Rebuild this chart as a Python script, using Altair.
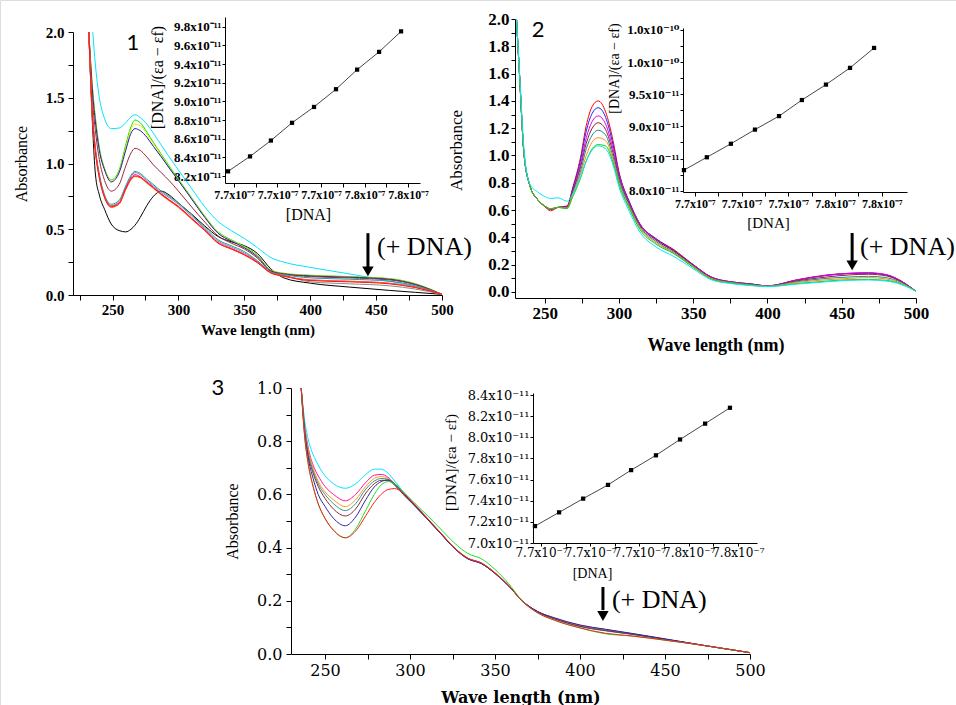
import altair as alt
import pandas as pd

SERIF = "Liberation Serif"
SERIF_FB = "Liberation Serif, DejaVu Serif"
SERIF3 = "DejaVu Serif"
SANS = "Lato"

# ---------------- Panel 1 : spectra ----------------
P1_WL = [232, 235, 237, 240, 244, 249, 255, 260, 264, 267, 271, 276, 281, 287, 293, 300,
         310, 320, 330, 340, 350, 360, 370, 380, 400, 430, 460, 480, 500]
P1_NAMES = ["black", "cyan", "green", "yellow", "blue", "maroon", "teal", "gray", "magenta", "orange", "red"]
P1_COLORS = ["#000000", "#00E5FF", "#00E000", "#E8E800", "#1A1AB0", "#99283A", "#1E9A9A",
             "#8A8A8A", "#FF00CC", "#FF9900", "#FF1010"]
P1_BLACK = [2.0, 1.25, 0.92, 0.76, 0.65, 0.54, 0.49, 0.48, 0.50, 0.53, 0.59, 0.68, 0.75, 0.79, 0.76, 0.70,
            0.615, 0.525, 0.445, 0.405, 0.375, 0.315, 0.20, 0.13, 0.09, 0.06, 0.035, 0.02, 0.005]
P1_CYAN = [None, 2.0, 1.75, 1.50, 1.34, 1.265, 1.27, 1.31, 1.355, 1.37, 1.35, 1.30, 1.23, 1.14, 1.05, 0.95,
           0.81, 0.67, 0.56, 0.49, 0.43, 0.36, 0.285, 0.25, 0.21, 0.16, 0.105, 0.065, 0.005]
P1_GREEN = [2.0, 1.55, 1.35, 1.12, 0.96, 0.875, 0.95, 1.14, 1.28, 1.33, 1.31, 1.24, 1.16, 1.07, 0.98, 0.88,
            0.74, 0.60, 0.48, 0.42, 0.37, 0.30, 0.19, 0.165, 0.15, 0.14, 0.125, 0.085, 0.005]
P1_YELLOW = [2.0, 1.54, 1.34, 1.11, 0.955, 0.87, 0.94, 1.12, 1.26, 1.30, 1.29, 1.225, 1.15, 1.06, 0.97, 0.875,
             0.735, 0.595, 0.475, 0.415, 0.365, 0.295, 0.19, 0.163, 0.148, 0.138, 0.123, 0.083, 0.005]
P1_BLUE = [2.0, 1.52, 1.32, 1.10, 0.95, 0.86, 0.93, 1.10, 1.23, 1.265, 1.25, 1.20, 1.13, 1.05, 0.965, 0.87,
           0.73, 0.59, 0.47, 0.41, 0.36, 0.29, 0.185, 0.16, 0.145, 0.135, 0.12, 0.08, 0.005]
P1_MAROON = [2.0, 1.45, 1.25, 1.03, 0.87, 0.79, 0.84, 0.98, 1.08, 1.115, 1.10, 1.05, 0.99, 0.93, 0.87, 0.79,
             0.67, 0.555, 0.45, 0.395, 0.35, 0.28, 0.18, 0.16, 0.14, 0.13, 0.115, 0.078, 0.005]
P1_TEAL = [2.0, 1.35, 1.12, 0.92, 0.76, 0.69, 0.72, 0.83, 0.91, 0.94, 0.925, 0.88, 0.84, 0.79, 0.75, 0.70,
           0.61, 0.515, 0.42, 0.375, 0.33, 0.26, 0.175, 0.155, 0.13, 0.12, 0.105, 0.07, 0.005]
P1_GRAY = [2.0, 1.34, 1.11, 0.91, 0.755, 0.68, 0.71, 0.82, 0.90, 0.93, 0.915, 0.87, 0.83, 0.78, 0.74, 0.69,
           0.60, 0.505, 0.41, 0.365, 0.32, 0.255, 0.17, 0.15, 0.10, 0.085, 0.07, 0.045, 0.005]
P1_MAGENTA = [2.0, 1.33, 1.10, 0.90, 0.745, 0.675, 0.70, 0.81, 0.89, 0.915, 0.90, 0.86, 0.82, 0.77, 0.725, 0.675,
              0.585, 0.495, 0.40, 0.355, 0.31, 0.25, 0.17, 0.145, 0.115, 0.105, 0.09, 0.06, 0.005]
P1_ORANGE = [2.0, 1.32, 1.09, 0.89, 0.74, 0.665, 0.69, 0.80, 0.875, 0.90, 0.89, 0.85, 0.81, 0.76, 0.715, 0.665,
             0.575, 0.49, 0.395, 0.35, 0.305, 0.245, 0.168, 0.143, 0.113, 0.103, 0.088, 0.058, 0.005]
P1_RED = [2.0, 1.32, 1.09, 0.89, 0.74, 0.67, 0.695, 0.805, 0.88, 0.905, 0.895, 0.855, 0.815, 0.765, 0.72, 0.67,
          0.58, 0.49, 0.395, 0.35, 0.305, 0.245, 0.168, 0.143, 0.11, 0.10, 0.085, 0.056, 0.005]
P1_SERIES = [P1_BLACK, P1_CYAN, P1_GREEN, P1_YELLOW, P1_BLUE, P1_MAROON, P1_TEAL, P1_GRAY,
             P1_MAGENTA, P1_ORANGE, P1_RED]

# ---------------- Panel 2 : spectra ----------------
P2_WL = [231, 233, 236, 240, 245, 250, 254, 259, 265, 269, 274, 278, 282, 286, 291, 296, 300, 307, 314, 325,
         337, 350, 362, 375, 388, 400, 420, 440, 455, 468, 480, 490, 500]
P2_NAMES = ["red", "blue", "magenta", "wine", "teal", "orange", "green", "cyan"]
P2_COLORS = ["#FF0000", "#2020FF", "#E000E0", "#8B2040", "#208C8C", "#FF8C1A", "#10D010", "#00E8FF"]
P2_RED = [2.0, 1.60, 1.02, 0.78, 0.68, 0.625, 0.595, 0.62, 0.63, 0.77, 0.98, 1.22, 1.36, 1.40, 1.32, 1.11,
          0.88, 0.66, 0.50, 0.39, 0.31, 0.20, 0.11, 0.075, 0.06, 0.045, 0.09, 0.125, 0.137, 0.14, 0.125, 0.08, 0.005]
P2_BLUE = [2.0, 1.60, 1.02, 0.78, 0.68, 0.63, 0.605, 0.62, 0.625, 0.76, 0.96, 1.18, 1.31, 1.35, 1.28, 1.08,
           0.87, 0.66, 0.50, 0.39, 0.305, 0.20, 0.11, 0.075, 0.06, 0.045, 0.088, 0.122, 0.135, 0.138, 0.125, 0.08, 0.005]
P2_MAGENTA = [2.0, 1.60, 1.02, 0.78, 0.68, 0.63, 0.605, 0.62, 0.62, 0.75, 0.93, 1.13, 1.25, 1.29, 1.23, 1.05,
              0.86, 0.65, 0.50, 0.385, 0.30, 0.20, 0.11, 0.075, 0.06, 0.045, 0.088, 0.122, 0.137, 0.14, 0.128, 0.08, 0.005]
P2_WINE = [2.0, 1.60, 1.02, 0.78, 0.68, 0.63, 0.608, 0.62, 0.62, 0.74, 0.91, 1.09, 1.20, 1.24, 1.19, 1.02,
           0.84, 0.64, 0.49, 0.38, 0.30, 0.195, 0.105, 0.072, 0.058, 0.044, 0.082, 0.11, 0.125, 0.13, 0.118, 0.075, 0.005]
P2_TEAL = [2.0, 1.60, 1.02, 0.78, 0.68, 0.63, 0.608, 0.62, 0.615, 0.73, 0.88, 1.05, 1.15, 1.185, 1.15, 0.99,
           0.82, 0.63, 0.48, 0.37, 0.29, 0.19, 0.10, 0.07, 0.055, 0.043, 0.076, 0.10, 0.11, 0.115, 0.105, 0.07, 0.005]
P2_ORANGE = [2.0, 1.60, 1.02, 0.78, 0.68, 0.63, 0.61, 0.62, 0.615, 0.72, 0.86, 1.00, 1.10, 1.13, 1.11, 0.97,
             0.80, 0.62, 0.47, 0.36, 0.285, 0.185, 0.10, 0.068, 0.052, 0.042, 0.07, 0.09, 0.10, 0.105, 0.095, 0.065, 0.005]
P2_GREEN = [2.0, 1.60, 1.02, 0.78, 0.68, 0.63, 0.61, 0.62, 0.61, 0.70, 0.83, 0.96, 1.05, 1.08, 1.07, 0.95,
            0.79, 0.61, 0.46, 0.35, 0.28, 0.18, 0.095, 0.065, 0.05, 0.04, 0.062, 0.08, 0.09, 0.092, 0.085, 0.06, 0.005]
P2_CYAN = [2.0, 1.62, 1.06, 0.79, 0.735, 0.70, 0.685, 0.69, 0.665, 0.72, 0.84, 0.96, 1.04, 1.07, 1.05, 0.93,
           0.77, 0.59, 0.44, 0.33, 0.26, 0.17, 0.09, 0.062, 0.048, 0.04, 0.058, 0.075, 0.085, 0.088, 0.08, 0.055, 0.005]
P2_SERIES = [P2_RED, P2_BLUE, P2_MAGENTA, P2_WINE, P2_TEAL, P2_ORANGE, P2_GREEN, P2_CYAN]

# ---------------- Panel 3 : spectra ----------------
P3_WL = [236, 238, 240, 243, 246, 250, 255, 262, 268, 274, 279, 283, 287, 291, 296, 302, 310, 318, 326, 334,
         342, 350, 358, 366, 375, 385, 400, 415, 430, 450, 475, 500]
P3_NAMES = ["cyan", "magenta", "orange", "teal", "maroon", "navy", "green", "red"]
P3_COLORS = ["#00E5FF", "#FF1493", "#FF9A1A", "#2A9A8A", "#8B2A3A", "#2A2AA0", "#20E020", "#FF2020"]
P3_CYAN = [1.00, 0.88, 0.81, 0.75, 0.71, 0.67, 0.64, 0.623, 0.64, 0.675, 0.695, 0.695, 0.68, 0.65, 0.61, 0.565,
           0.51, 0.455, 0.40, 0.36, 0.342, 0.305, 0.258, 0.20, 0.16, 0.133, 0.103, 0.087, 0.074, 0.055, 0.03, 0.005]
P3_MAGENTA = [1.00, 0.86, 0.78, 0.71, 0.67, 0.63, 0.60, 0.576, 0.60, 0.645, 0.672, 0.675, 0.665, 0.64, 0.605, 0.565,
              0.51, 0.455, 0.40, 0.36, 0.342, 0.305, 0.258, 0.20, 0.16, 0.135, 0.108, 0.092, 0.077, 0.056, 0.03, 0.005]
P3_ORANGE = [1.00, 0.85, 0.77, 0.70, 0.65, 0.61, 0.58, 0.554, 0.58, 0.63, 0.66, 0.667, 0.66, 0.64, 0.605, 0.565,
             0.51, 0.455, 0.40, 0.36, 0.342, 0.305, 0.258, 0.20, 0.16, 0.134, 0.106, 0.09, 0.076, 0.055, 0.03, 0.005]
P3_TEAL = [1.00, 0.85, 0.76, 0.69, 0.64, 0.60, 0.565, 0.539, 0.565, 0.62, 0.65, 0.66, 0.657, 0.635, 0.60, 0.562,
           0.508, 0.453, 0.398, 0.358, 0.34, 0.303, 0.256, 0.20, 0.158, 0.132, 0.104, 0.088, 0.075, 0.055, 0.03, 0.005]
P3_MAROON = [1.00, 0.84, 0.75, 0.68, 0.63, 0.585, 0.545, 0.519, 0.545, 0.605, 0.64, 0.653, 0.653, 0.635, 0.60, 0.562,
             0.508, 0.453, 0.398, 0.358, 0.34, 0.303, 0.256, 0.20, 0.158, 0.132, 0.104, 0.088, 0.075, 0.055, 0.03, 0.005]
P3_NAVY = [1.00, 0.83, 0.74, 0.66, 0.60, 0.555, 0.51, 0.482, 0.515, 0.58, 0.628, 0.648, 0.654, 0.64, 0.605, 0.564,
           0.509, 0.454, 0.398, 0.358, 0.34, 0.303, 0.256, 0.20, 0.16, 0.136, 0.109, 0.093, 0.078, 0.057, 0.03, 0.005]
P3_GREEN = [1.00, 0.82, 0.72, 0.63, 0.565, 0.51, 0.465, 0.437, 0.47, 0.54, 0.60, 0.635, 0.648, 0.64, 0.61, 0.572,
            0.522, 0.47, 0.418, 0.378, 0.358, 0.318, 0.265, 0.20, 0.155, 0.127, 0.098, 0.076, 0.068, 0.052, 0.03, 0.005]
P3_RED = [1.00, 0.82, 0.72, 0.63, 0.565, 0.51, 0.465, 0.437, 0.462, 0.52, 0.57, 0.60, 0.618, 0.622, 0.605, 0.568,
          0.512, 0.456, 0.40, 0.36, 0.342, 0.305, 0.258, 0.198, 0.155, 0.127, 0.098, 0.078, 0.068, 0.052, 0.03, 0.005]
P3_SERIES = [P3_CYAN, P3_MAGENTA, P3_ORANGE, P3_TEAL, P3_MAROON, P3_NAVY, P3_GREEN, P3_RED]

# ---------------- Insets : [DNA] vs [DNA]/(ea-ef) ----------------
I1_DNA = [7.6973, 7.7074, 7.7170, 7.7267, 7.7368, 7.7469, 7.7566, 7.7667, 7.7768]   # x 1e-7
I1_RATIO = [8.25, 8.41, 8.58, 8.77, 8.94, 9.13, 9.34, 9.53, 9.75]                   # x 1e-11
I2_DNA = [7.6953, 7.7051, 7.7154, 7.7257, 7.7360, 7.7458, 7.7561, 7.7664, 7.7767]
I2_RATIO = [8.32, 8.52, 8.73, 8.95, 9.16, 9.41, 9.65, 9.91, 10.22]
I3_DNA = [7.6975, 7.7073, 7.7171, 7.7272, 7.7366, 7.7467, 7.7565, 7.7667, 7.7768]
I3_RATIO = [7.16, 7.29, 7.42, 7.55, 7.69, 7.83, 7.98, 8.13, 8.28]

# ---------------- Annotations ----------------
NUM_TEXT = ["1", "2", "3"]
NUM_WL = [265.5, 245.5, 187.0]
NUM_A = [1.92, 1.92, 1.0]
ARROW_WL = [443.8, 457.0, 413.5]
ARROW_TOP = [0.47, 0.432, 0.252]
ARROW_SHAFT_END = [0.21, 0.225, 0.165]
ARROW_HEAD = [0.18, 0.195, 0.143]
LABEL_WL = [450.7, 462.3, 418.8]
LABEL_A = [0.365, 0.33, 0.203]
LABEL_TEXT = "(+ DNA)"

W, H = 956, 705


def spectra_df(wl, names, colors, series):
    rows = []
    for name, col, vals in zip(names, colors, series):
        for w, v in zip(wl, vals):
            if v is not None:
                rows.append({"wl": w, "a": v, "s": name, "c": col})
    return pd.DataFrame(rows)


def make_axis(orient, offset, values, expr, title, lf, ls, lw, tf, ts, tw, tick=5, lpad=2, tpad=6, **kw):
    return alt.Axis(orient=orient, offset=offset, values=values, labelExpr=expr, title=title,
                    labelFont=lf, labelFontSize=ls, labelFontWeight=lw,
                    titleFont=tf, titleFontSize=ts, titleFontWeight=tw,
                    grid=False, domainColor="black", tickColor="black", labelColor="black",
                    titleColor="black", domainWidth=1, tickWidth=1, tickSize=tick,
                    labelPadding=lpad, titlePadding=tpad, labelOverlap=False, labelFlush=False,
                    labelBound=False, **kw)


def panel(k, df, X, Y, lab_font, lab_size):
    lines = alt.Chart(df).mark_line(strokeWidth=1, interpolate="monotone").encode(
        x=X, y=Y, color=alt.Color("c:N", scale=None), detail="s:N")
    num = alt.Chart(pd.DataFrame({"wl": [NUM_WL[k]], "a": [NUM_A[k]], "t": [NUM_TEXT[k]]})).mark_text(
        font=SANS, fontSize=22, color="black", align="center", baseline="middle").encode(x=X, y=Y, text="t:N")
    shaft = alt.Chart(pd.DataFrame({"wl": [ARROW_WL[k]], "a": [ARROW_TOP[k]], "a2": [ARROW_SHAFT_END[k]]})).mark_rule(
        color="black", strokeWidth=3).encode(x=X, y=Y, y2="a2:Q")
    head = alt.Chart(pd.DataFrame({"wl": [ARROW_WL[k]], "a": [ARROW_HEAD[k]]})).mark_point(
        shape="triangle-down", filled=True, color="black", opacity=1, size=130).encode(x=X, y=Y)
    lab = alt.Chart(pd.DataFrame({"wl": [LABEL_WL[k]], "a": [LABEL_A[k]], "t": [LABEL_TEXT]})).mark_text(
        font=lab_font, fontSize=lab_size, color="black", align="left", baseline="middle").encode(x=X, y=Y, text="t:N")
    return alt.layer(lines, num, shaft, head, lab)


def inset(xs, ys, xdom, xrng, ydom, yrng, yvals, yexpr, xlf, ylf, xls, yls, lw, tf, ts, ttx, tty,
          xtick, xlpad, xtpad, ytick, ylpad, ytpad, xts):
    df = pd.DataFrame({"d": xs, "r": ys})
    xexpr = "round(datum.value*100) % 2 === 0 ? format(datum.value, '.1f') + 'x10⁻⁷' : ''"
    X = alt.X("d:Q", scale=alt.Scale(domain=xdom, range=xrng, nice=False, zero=False),
              axis=make_axis("bottom", yrng[0] - H, [7.70, 7.71, 7.72, 7.73, 7.74, 7.75, 7.76, 7.77, 7.78],
                             xexpr, "[DNA]", xlf, xls, lw, tf, xts, "normal", tick=xtick, lpad=xlpad, tpad=xtpad,
                             titleX=ttx))
    Y = alt.Y("r:Q", scale=alt.Scale(domain=ydom, range=yrng, nice=False, zero=False),
              axis=make_axis("left", -xrng[0], yvals, yexpr, "[DNA]/(εa − εf)", ylf, yls, lw, tf, ts, "normal",
                             tick=ytick, lpad=ylpad, tpad=ytpad, titleY=tty))
    line = alt.Chart(df).mark_line(color="#333333", strokeWidth=0.9).encode(x=X, y=Y)
    pts = alt.Chart(df).mark_point(shape="square", filled=True, color="black", opacity=1, size=18).encode(x=X, y=Y)
    return alt.layer(line, pts)


# ---- panel 1 ----
df1 = spectra_df(P1_WL, P1_NAMES, P1_COLORS, P1_SERIES)
X1 = alt.X("wl:Q", scale=alt.Scale(domain=[220, 500], range=[73, 442], nice=False, zero=False),
           axis=make_axis("bottom", 295 - H, [225, 250, 275, 300, 325, 350, 375, 400, 425, 450, 475, 500],
                          "datum.value % 50 === 0 ? format(datum.value, 'd') : ''", "Wave length (nm)",
                          SERIF, 15, "bold", SERIF, 15, "bold", tick=5, lpad=2, tpad=5))
Y1 = alt.Y("a:Q", scale=alt.Scale(domain=[0, 2.0], range=[295, 32], nice=False, zero=False),
           axis=make_axis("left", -73, [0, 0.25, 0.5, 0.75, 1.0, 1.25, 1.5, 1.75, 2.0],
                          "round(datum.value*100) % 50 === 0 ? format(datum.value, '.1f') : ''", "Absorbance",
                          SERIF, 15, "bold", SERIF, 16, "normal", tick=5, lpad=4, tpad=16))
p1 = panel(0, df1, X1, Y1, SERIF, 26)

# ---- panel 2 ----
df2 = spectra_df(P2_WL, P2_NAMES, P2_COLORS, P2_SERIES)
X2 = alt.X("wl:Q", scale=alt.Scale(domain=[230, 500], range=[515, 916], nice=False, zero=False),
           axis=make_axis("bottom", 298 - H, [250, 275, 300, 325, 350, 375, 400, 425, 450, 475, 500],
                          "datum.value % 50 === 0 ? format(datum.value, 'd') : ''", "Wave length (nm)",
                          SERIF, 17, "bold", SERIF, 18, "bold", tick=5, lpad=2, tpad=15))
Y2 = alt.Y("a:Q", scale=alt.Scale(domain=[-0.044, 2.0], range=[298, 19], nice=False, zero=False),
           axis=make_axis("left", -515, [0, 0.1, 0.2, 0.3, 0.4, 0.5, 0.6, 0.7, 0.8, 0.9, 1.0, 1.1, 1.2, 1.3, 1.4,
                                         1.5, 1.6, 1.7, 1.8, 1.9, 2.0],
                          "round(datum.value*10) % 2 === 0 ? format(datum.value, '.1f') : ''", "Absorbance",
                          SERIF, 17, "bold", SERIF, 17, "normal", tick=4, lpad=2, tpad=22, titleY=150))
p2 = panel(1, df2, X2, Y2, SERIF, 26)

# ---- panel 3 ----
df3 = spectra_df(P3_WL, P3_NAMES, P3_COLORS, P3_SERIES)
X3 = alt.X("wl:Q", scale=alt.Scale(domain=[230, 500], range=[291, 750], nice=False, zero=False),
           axis=make_axis("bottom", 654 - H, [250, 275, 300, 325, 350, 375, 400, 425, 450, 475, 500],
                          "datum.value % 50 === 0 ? format(datum.value, 'd') : ''", "Wave length (nm)",
                          SERIF3, 16, "normal", SERIF3, 16, "bold", tick=5, lpad=3, tpad=11))
Y3 = alt.Y("a:Q", scale=alt.Scale(domain=[0, 1.0], range=[654, 388], nice=False, zero=False),
           axis=make_axis("left", -291, [0, 0.1, 0.2, 0.3, 0.4, 0.5, 0.6, 0.7, 0.8, 0.9, 1.0],
                          "round(datum.value*10) % 2 === 0 ? format(datum.value, '.1f') : ''", "Absorbance",
                          SERIF3, 16, "normal", SERIF, 16, "normal", tick=5, lpad=4, tpad=16))
p3 = panel(2, df3, X3, Y3, SERIF, 26)

# ---- insets ----
EXP11 = "format(datum.value, '.1f') + 'x10⁻¹¹'"
EXP_I2 = ("round(datum.value*100) % 50 !== 0 ? '' : (datum.value >= 9.99 ? '1.0x10⁻¹⁰' : "
          "format(datum.value, '.1f') + 'x10⁻¹¹')")
i1 = inset(I1_DNA, I1_RATIO, [7.6959, 7.7855], [225, 420], [8.125, 9.904], [183, 17],
           [8.2, 8.4, 8.6, 8.8, 9.0, 9.2, 9.4, 9.6, 9.8], EXP11, SERIF, SERIF, 12, 13, "bold", SERIF, 16, 308, 77,
           4, 2, 6, 3, 1, 8, 16)
i2 = inset(I2_DNA, I2_RATIO, [7.6949, 7.7908], [683, 907], [7.98, 10.53], [192, 28],
           [8.0, 8.25, 8.5, 8.75, 9.0, 9.25, 9.5, 9.75, 10.0, 10.25, 10.5], EXP_I2, SERIF, SERIF_FB, 12, 13, "bold",
           SERIF, 14, 768, 68, 4, 2, 6, 3, 1, 5, 15)
i3 = inset(I3_DNA, I3_RATIO, [7.6967, 7.7878], [533, 757], [7.0, 8.42], [543, 393],
           [7.0, 7.2, 7.4, 7.6, 7.8, 8.0, 8.2, 8.4], EXP11, SERIF3, SERIF3, 12, 13, "normal", SERIF, 15, 592, 462,
           3, 1, 8, 3, 1, 9, 14)

chart = alt.layer(p1, i1, p2, i2, p3, i3).resolve_scale(
    x="independent", y="independent"
).properties(
    width=W, height=H, autosize=alt.AutoSizeParams(type="none"), padding=0
).configure_view(stroke=None).configure(background="white")

chart.save("out.html", embed_options={"renderer": "svg", "actions": False})
